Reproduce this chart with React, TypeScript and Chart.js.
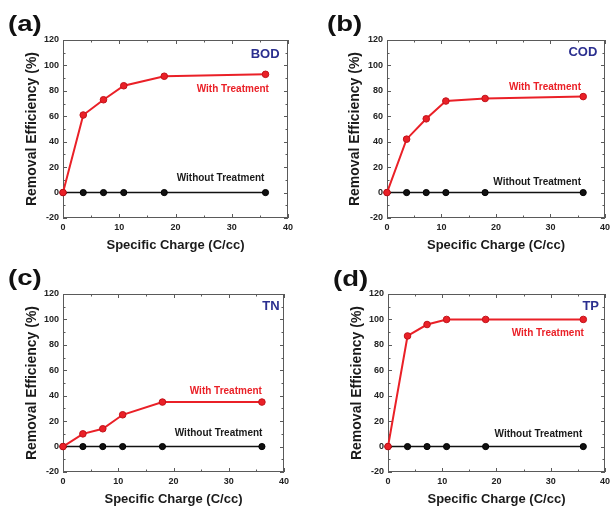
import React, { useEffect, useRef } from "react";
import { Chart, registerables } from "chart.js";

Chart.register(...registerables);

// ---- data ----
const specificCharge = [0, 3.6, 7.2, 10.8, 18, 36];
const bodWith = [0, 61, 73, 84, 91.5, 93];
const codWith = [0, 42, 58, 72, 74, 75.5];
const tnWith = [0, 10, 14, 25, 35, 35];
const tpWith = [0, 87, 96, 100, 100, 100];
const bodWithout = [0, 0, 0, 0, 0, 0];
const codWithout = [0, 0, 0, 0, 0, 0];
const tnWithout = [0, 0, 0, 0, 0, 0];
const tpWithout = [0, 0, 0, 0, 0, 0];
const xTicks = [0, 10, 20, 30, 40];
const yTicks = [-20, 0, 20, 40, 60, 80, 100, 120];
const panelLetters = ["(a)", "(b)", "(c)", "(d)"];
const parameterNames = ["BOD", "COD", "TN", "TP"];
const withLabel = "With Treatment";
const withoutLabel = "Without Treatment";
const xTitle = "Specific Charge (C/cc)";
const yTitle = "Removal Efficiency (%)";

// ---- layout / style per panel ----
type Panel = {
  letter: string;
  name: string;
  withVals: number[];
  withoutVals: number[];
  left: number;
  top: number;
  padL: number;
  yW: number;
  padR: number;
  letterX: number;
  letterY: number;
  tagAt: [number, number];
  withAt: [number, number];
  withoutAt: [number, number];
};

const panels: Panel[] = [
  { letter: panelLetters[0], name: parameterNames[0], withVals: bodWith, withoutVals: bodWithout,
    left: 0, top: 0, padL: 24, yW: 39, padR: 19, letterX: 8, letterY: 25,
    tagAt: [38.5, 108.5], withAt: [36.6, 81], withoutAt: [35.8, 11.2] },
  { letter: panelLetters[1], name: parameterNames[1], withVals: codWith, withoutVals: codWithout,
    left: 307, top: 0, padL: 40, yW: 40, padR: 5, letterX: 20, letterY: 25,
    tagAt: [38.6, 110], withAt: [35.6, 82.7], withoutAt: [35.6, 8.3] },
  { letter: panelLetters[2], name: parameterNames[2], withVals: tnWith, withoutVals: tnWithout,
    left: 0, top: 254, padL: 24, yW: 39, padR: 23, letterX: 8, letterY: 25,
    tagAt: [39.2, 110], withAt: [36, 43.6], withoutAt: [36.1, 10.2] },
  { letter: panelLetters[3], name: parameterNames[3], withVals: tpWith, withoutVals: tpWithout,
    left: 307, top: 254, padL: 42, yW: 39, padR: 4, letterX: 26, letterY: 26,
    tagAt: [38.9, 110.6], withAt: [36.1, 89], withoutAt: [35.8, 9.7] },
];

const FONT = "'Liberation Sans', Arial, Helvetica, sans-serif";
const RED = "#ea2027";
const RED_DARK = "#c1121a";
const BLACK = "#111111";
const BLUE = "#2b2f8f";
const FRAME = "#5a5a5a";

const decorPlugin = {
  id: "decor",
  beforeDatasetsDraw(chart: any) {
    const { ctx, chartArea: a, scales } = chart;
    const xs = scales.x;
    const ys = scales.y;
    ctx.save();
    ctx.strokeStyle = FRAME;
    ctx.lineWidth = 1;
    ctx.strokeRect(a.left + 0.5, a.top + 0.5, a.right - a.left - 1, a.bottom - a.top - 1);
    ctx.beginPath();
    // x ticks (major every 10, minor every 5)
    for (let i = 0; i < xTicks.length; i++) {
      const v = xTicks[i];
      const px = Math.round(xs.getPixelForValue(v)) + 0.5;
      ctx.moveTo(px, a.bottom); ctx.lineTo(px, a.bottom - 4);
      ctx.moveTo(px, a.top); ctx.lineTo(px, a.top + 4);
      if (i < xTicks.length - 1) {
        const m = Math.round(xs.getPixelForValue((v + xTicks[i + 1]) / 2)) + 0.5;
        ctx.moveTo(m, a.bottom); ctx.lineTo(m, a.bottom - 2.5);
        ctx.moveTo(m, a.top); ctx.lineTo(m, a.top + 2.5);
      }
    }
    for (let i = 0; i < yTicks.length; i++) {
      const v = yTicks[i];
      const py = Math.round(ys.getPixelForValue(v)) + 0.5;
      ctx.moveTo(a.left, py); ctx.lineTo(a.left + 4, py);
      ctx.moveTo(a.right, py); ctx.lineTo(a.right - 4, py);
      if (i < yTicks.length - 1) {
        const m = Math.round(ys.getPixelForValue((v + yTicks[i + 1]) / 2)) + 0.5;
        ctx.moveTo(a.left, m); ctx.lineTo(a.left + 2.5, m);
        ctx.moveTo(a.right, m); ctx.lineTo(a.right - 2.5, m);
      }
    }
    ctx.stroke();
    ctx.restore();
  },
  afterDatasetsDraw(chart: any, _args: any, opts: any) {
    const { ctx, scales } = chart;
    const p: Panel = opts.panel;
    if (!p) return;
    const xs = scales.x;
    const ys = scales.y;
    ctx.save();
    ctx.textBaseline = "middle";
    // panel letter
    ctx.save();
    ctx.translate(p.letterX, p.letterY);
    ctx.scale(1.25, 1);
    ctx.fillStyle = "#111";
    ctx.textAlign = "left";
    ctx.font = `bold 22px ${FONT}`;
    ctx.fillText(p.letter, 0, 0);
    ctx.restore();
    ctx.textAlign = "right";
    ctx.font = `bold 13px ${FONT}`;
    ctx.fillStyle = BLUE;
    ctx.fillText(p.name, xs.getPixelForValue(p.tagAt[0]), ys.getPixelForValue(p.tagAt[1]));
    ctx.font = `bold 10px ${FONT}`;
    ctx.fillStyle = RED;
    ctx.fillText(withLabel, xs.getPixelForValue(p.withAt[0]), ys.getPixelForValue(p.withAt[1]));
    ctx.fillStyle = "#1a1a1a";
    ctx.fillText(withoutLabel, xs.getPixelForValue(p.withoutAt[0]), ys.getPixelForValue(p.withoutAt[1]));
    ctx.restore();
  },
};

function PanelChart({ p }: { p: Panel }) {
  const ref = useRef<HTMLCanvasElement | null>(null);
  useEffect(() => {
    if (!ref.current) return;
    const chart = new Chart(ref.current, {
      type: "scatter",
      data: {
        datasets: [
          {
            label: withLabel,
            data: specificCharge.map((x, i) => ({ x, y: p.withVals[i] })),
            showLine: true,
            borderColor: RED,
            borderWidth: 2,
            backgroundColor: RED,
            pointBackgroundColor: RED,
            pointBorderColor: RED_DARK,
            pointBorderWidth: 1,
            pointRadius: 3.3,
            clip: false as any,
            order: 0,
          },
          {
            label: withoutLabel,
            data: specificCharge.map((x, i) => ({ x, y: p.withoutVals[i] })),
            showLine: true,
            borderColor: BLACK,
            borderWidth: 1.6,
            backgroundColor: BLACK,
            pointBackgroundColor: BLACK,
            pointBorderColor: "#000",
            pointBorderWidth: 1,
            pointRadius: 3.1,
            clip: false as any,
            order: 1,
          },
        ],
      },
      options: {
        animation: false,
        responsive: false,
        devicePixelRatio: 1,
        layout: { padding: { left: p.padL, right: p.padR, top: 40, bottom: 1 } },
        plugins: {
          legend: { display: false },
          tooltip: { enabled: false },
          decor: { panel: p },
        } as any,
        scales: {
          x: {
            type: "linear",
            min: 0,
            max: 40,
            afterBuildTicks: (s: any) => { s.ticks = xTicks.map((v) => ({ value: v })); },
            afterFit: (s: any) => { s.height = 35; },
            grid: { display: false, drawTicks: false },
            border: { display: false },
            ticks: { padding: 4, color: "#222", font: { family: FONT, size: 9, weight: "bold" }, maxRotation: 0 },
            title: { display: true, text: xTitle, color: "#1a1a1a", padding: 0, font: { family: FONT, size: 13, weight: "bold" } },
          },
          y: {
            type: "linear",
            min: -20,
            max: 120,
            afterBuildTicks: (s: any) => { s.ticks = yTicks.map((v) => ({ value: v })); },
            afterFit: (s: any) => { s.width = p.yW; },
            grid: { display: false, drawTicks: false },
            border: { display: false },
            ticks: { padding: 4, color: "#222", font: { family: FONT, size: 9, weight: "bold" } },
            title: { display: true, text: yTitle, color: "#1a1a1a", padding: 0, font: { family: FONT, size: 14, weight: "bold" } },
          },
        },
      } as any,
      plugins: [decorPlugin],
    });
    return () => chart.destroy();
  }, [p]);
  return (
    <div style={{ position: "absolute", left: p.left, top: p.top, width: 307, height: 254 }}>
      <canvas ref={ref} width={307} height={254} style={{ display: "block" }} />
    </div>
  );
}

export default function App() {
  return (
    <div style={{ position: "fixed", left: 0, top: 0, width: 614, height: 509, background: "#fff", overflow: "hidden" }}>
      {panels.map((p) => (
        <PanelChart key={p.letter} p={p} />
      ))}
    </div>
  );
}
